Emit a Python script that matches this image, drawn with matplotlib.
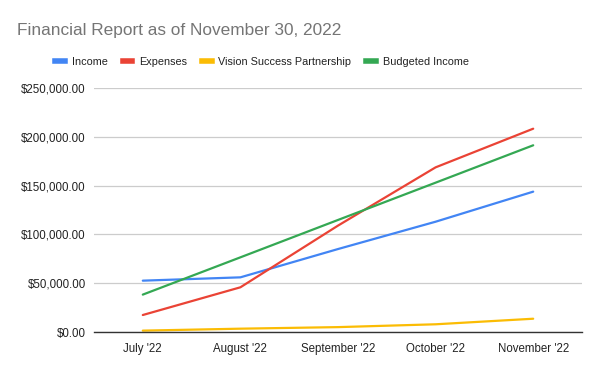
import matplotlib
matplotlib.use("Agg")
import matplotlib.pyplot as plt
from matplotlib.ticker import FuncFormatter
from matplotlib.lines import Line2D

months = ["July '22", "August '22", "September '22", "October '22", "November '22"]
income = [52600, 56000, 85000, 113000, 143800]
expenses = [17400, 45800, 109000, 168700, 208300]
vision = [1400, 3400, 5000, 7900, 13600]
budgeted = [38300, 76500, 114800, 153000, 191300]

series_names = ["Income", "Expenses", "Vision Success Partnership", "Budgeted Income"]
colors = ["#4285F4", "#EA4335", "#FBBC04", "#34A853"]
yticks = [0, 50000, 100000, 150000, 200000, 250000]

plt.rcParams['font.family'] = ['Liberation Sans', 'DejaVu Sans']

fig = plt.figure(figsize=(6, 3.71), dpi=100)
ax = fig.add_axes([94/600, 1-332/371, (582-94)/600, (332-88)/371])

x = list(range(len(months)))
for vals, c in zip([income, expenses, vision, budgeted], colors):
    ax.plot(x, vals, color=c, lw=1.6, solid_capstyle='round', zorder=3)

ax.set_xlim(-0.5, 4.5)
ax.set_ylim(0, 250000)
ax.set_yticks(yticks)
ax.yaxis.set_major_formatter(FuncFormatter(lambda v, p: "${:,.2f}".format(v)))
ax.set_xticks(x)
ax.set_xticklabels(months)
ax.grid(axis='y', color='#cccccc', lw=0.9)
ax.set_axisbelow(True)
for s in ['top', 'right', 'left']:
    ax.spines[s].set_visible(False)
ax.spines['bottom'].set_color('#333333')
ax.spines['bottom'].set_linewidth(1.0)
ax.spines['bottom'].set_zorder(4)
ax.tick_params(axis='both', length=0, labelsize=8.3, colors='#222222')
ax.tick_params(axis='x', pad=8)
ax.tick_params(axis='y', pad=6)

fig.text(17/600, 1-30/371, "Financial Report as of November 30, 2022", fontsize=12.4,
         color='#757575', va='center', ha='left')

handles = [Line2D([0], [0], color=c, lw=4) for c in colors]
fig.legend(handles, series_names, loc='center', bbox_to_anchor=(262/600, 1-62/371), ncol=4,
           frameon=False, fontsize=7.8, handlelength=0.9, handletextpad=0.6, columnspacing=1.4,
           labelcolor='#222222')

fig.savefig("out.png", dpi=100)
